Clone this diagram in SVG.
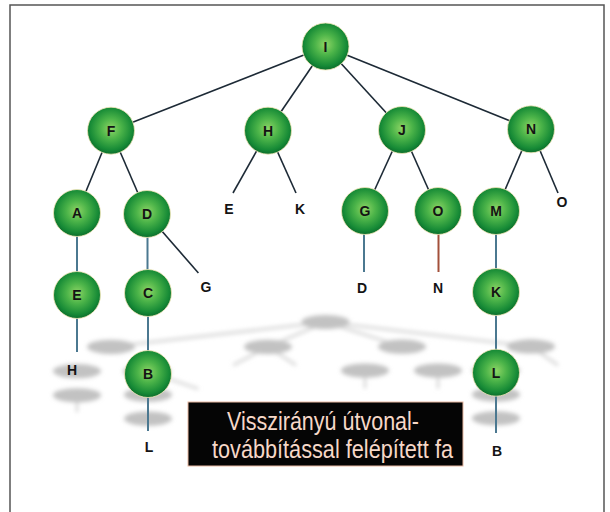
<svg xmlns="http://www.w3.org/2000/svg" width="610" height="512" viewBox="0 0 610 512">
  <defs>
    <radialGradient id="ball" cx="50%" cy="46%" r="55%">
      <stop offset="0" stop-color="#8fd666"/>
      <stop offset="0.4" stop-color="#4cb449"/>
      <stop offset="0.82" stop-color="#168a36"/>
      <stop offset="1" stop-color="#0b6a2b"/>
    </radialGradient>
    <filter id="soft" x="-10%" y="-30%" width="120%" height="160%">
      <feGaussianBlur stdDeviation="2"/>
    </filter>
  </defs>
  <style>
    .node circle { fill: url(#ball); stroke: #f1e6b8; stroke-width: 0.8; }
    .lbl { font-family: "Liberation Sans", Arial, sans-serif; font-weight: bold; font-size: 14px; fill: #141414; text-anchor: middle; }
    .edge { stroke: #1d2a36; stroke-width: 1.6; fill: none; }
    .stem { stroke: #4b7890; stroke-width: 2; fill: none; }
    .stem-red { stroke: #a3503a; stroke-width: 2; fill: none; }
    .ghost circle { fill: #c2c2c2; }
    .ghost line { stroke: #dadada; stroke-width: 3; vector-effect: non-scaling-stroke; }
    .caption { font-family: "Liberation Sans", Arial, sans-serif; font-size: 26px; fill: #f6d8c8; }
  </style>

  <rect width="610" height="512" fill="#ffffff"/>

  <!-- frame -->
  <path d="M10,512 V5 H604 V512" fill="none" stroke="#555" stroke-width="1.5"/>

  <!-- flattened reflection of the tree -->
  <g id="reflection" class="ghost" filter="url(#soft)">
    <g transform="matrix(1 0 0 0.295 0 308.3)">
      <line x1="325.5" y1="46.5" x2="111" y2="130.7"/>
      <line x1="325.5" y1="46.5" x2="268" y2="130.7"/>
      <line x1="325.5" y1="46.5" x2="402" y2="130"/>
      <line x1="325.5" y1="46.5" x2="531" y2="129.3"/>
      <line x1="268" y1="130.7" x2="233" y2="193"/>
      <line x1="268" y1="130.7" x2="296" y2="193"/>
      <line x1="531" y1="129.3" x2="558" y2="193"/>
      <line x1="147" y1="214" x2="198.4" y2="273"/>
      <line x1="365" y1="211" x2="365" y2="272"/>
      <line x1="438" y1="211" x2="438" y2="272"/>
      <line x1="77" y1="295" x2="77" y2="352"/>
      <circle cx="325.5" cy="46.5" r="24"/>
      <circle cx="111" cy="130.7" r="24"/>
      <circle cx="268" cy="130.7" r="24"/>
      <circle cx="402" cy="130" r="24"/>
      <circle cx="531" cy="129.3" r="24"/>
      <circle cx="77" cy="213" r="24"/>
      <circle cx="147" cy="214" r="24"/>
      <circle cx="365" cy="211" r="24"/>
      <circle cx="438" cy="211" r="24"/>
      <circle cx="496" cy="211" r="24"/>
      <circle cx="77" cy="295" r="24"/>
      <circle cx="148" cy="293" r="24"/>
      <circle cx="496" cy="292" r="24"/>
      <circle cx="148" cy="374" r="24"/>
      <circle cx="496" cy="372.7" r="24"/>
    </g>
  </g>

  <!-- connectors -->
  <g id="connectors">
    <line class="edge" x1="325.5" y1="46.5" x2="111" y2="130.7"/>
    <line class="edge" x1="325.5" y1="46.5" x2="268" y2="130.7"/>
    <line class="edge" x1="325.5" y1="46.5" x2="402" y2="130"/>
    <line class="edge" x1="325.5" y1="46.5" x2="531" y2="129.3"/>
    <line class="edge" x1="111" y1="130.7" x2="77" y2="213"/>
    <line class="edge" x1="111" y1="130.7" x2="147" y2="214"/>
    <line class="edge" x1="268" y1="130.7" x2="233" y2="193"/>
    <line class="edge" x1="268" y1="130.7" x2="296" y2="193"/>
    <line class="edge" x1="402" y1="130" x2="365" y2="211"/>
    <line class="edge" x1="402" y1="130" x2="438" y2="211"/>
    <line class="edge" x1="531" y1="129.3" x2="496" y2="211"/>
    <line class="edge" x1="531" y1="129.3" x2="558" y2="193"/>
    <line class="edge" x1="147" y1="214" x2="198.4" y2="273"/>
    <line class="stem" x1="77" y1="213" x2="77" y2="295"/>
    <line class="stem" x1="147.5" y1="214" x2="147.5" y2="293"/>
    <line class="stem" x1="364" y1="211" x2="364" y2="272"/>
    <line class="stem-red" x1="438.5" y1="211" x2="438.5" y2="272"/>
    <line class="stem" x1="496" y1="211" x2="496" y2="292"/>
    <line class="stem" x1="77" y1="295" x2="77" y2="352"/>
    <line class="stem" x1="148" y1="293" x2="148" y2="374"/>
    <line class="stem" x1="496" y1="292" x2="496" y2="372.7"/>
    <line class="stem" x1="148" y1="374" x2="148" y2="431"/>
    <line class="stem" x1="496" y1="372.7" x2="496" y2="433"/>
  </g>

  <!-- tree nodes -->
  <g id="node-I" class="node"><circle cx="325.5" cy="46.5" r="23.5"/><text class="lbl" x="325.5" y="51.5">I</text></g>
  <g id="node-F" class="node"><circle cx="111" cy="130.7" r="23.5"/><text class="lbl" x="111" y="135.7">F</text></g>
  <g id="node-H" class="node"><circle cx="268" cy="130.7" r="23.5"/><text class="lbl" x="268" y="135.7">H</text></g>
  <g id="node-J" class="node"><circle cx="402" cy="130" r="23.5"/><text class="lbl" x="402" y="135">J</text></g>
  <g id="node-N" class="node"><circle cx="531" cy="129.3" r="23.5"/><text class="lbl" x="531" y="134.3">N</text></g>
  <g id="node-A" class="node"><circle cx="77" cy="213" r="23.5"/><text class="lbl" x="77" y="218">A</text></g>
  <g id="node-D" class="node"><circle cx="147" cy="214" r="23.5"/><text class="lbl" x="147" y="219">D</text></g>
  <g id="node-G" class="node"><circle cx="365" cy="211" r="23.5"/><text class="lbl" x="365" y="216">G</text></g>
  <g id="node-O" class="node"><circle cx="438" cy="211" r="23.5"/><text class="lbl" x="438" y="216">O</text></g>
  <g id="node-M" class="node"><circle cx="496" cy="211" r="23.5"/><text class="lbl" x="496" y="216">M</text></g>
  <g id="node-E" class="node"><circle cx="77" cy="295" r="23.5"/><text class="lbl" x="77" y="300">E</text></g>
  <g id="node-C" class="node"><circle cx="148" cy="293" r="23.5"/><text class="lbl" x="148" y="298">C</text></g>
  <g id="node-K" class="node"><circle cx="496" cy="292" r="23.5"/><text class="lbl" x="496" y="297">K</text></g>
  <g id="node-B" class="node"><circle cx="148" cy="374" r="23.5"/><text class="lbl" x="148" y="379">B</text></g>
  <g id="node-L" class="node"><circle cx="496" cy="372.7" r="23.5"/><text class="lbl" x="496" y="377.7">L</text></g>

  <!-- leaf labels -->
  <g id="leaf-H-E"><text class="lbl" x="229" y="214">E</text></g>
  <g id="leaf-H-K"><text class="lbl" x="300" y="214">K</text></g>
  <g id="leaf-N-O"><text class="lbl" x="562" y="207">O</text></g>
  <g id="leaf-D-G"><text class="lbl" x="206" y="292">G</text></g>
  <g id="leaf-G-D"><text class="lbl" x="362" y="293">D</text></g>
  <g id="leaf-O-N"><text class="lbl" x="438" y="293">N</text></g>
  <g id="leaf-E-H"><text class="lbl" x="72" y="375">H</text></g>
  <g id="leaf-B-L"><text class="lbl" x="149" y="452">L</text></g>
  <g id="leaf-L-B"><text class="lbl" x="497" y="456">B</text></g>

  <!-- caption -->
  <g id="caption">
    <rect x="188" y="402" width="275" height="64" fill="#050505" stroke="#e9b9a2" stroke-width="1"/>
    <text class="caption" x="227" y="430" textLength="192" lengthAdjust="spacingAndGlyphs">Visszirányú útvonal-</text>
    <text class="caption" x="212" y="458" textLength="241" lengthAdjust="spacingAndGlyphs">továbbítással felépített fa</text>
  </g>
</svg>
